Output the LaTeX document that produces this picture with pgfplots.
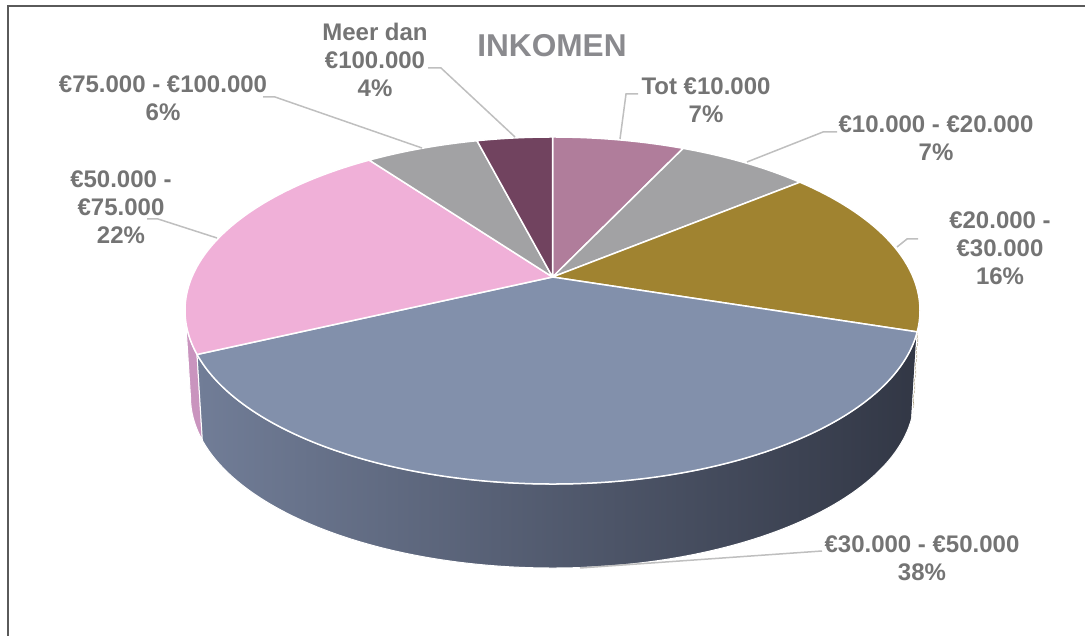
\documentclass[border=0pt]{standalone}
\usepackage{pgfplots}
\pgfplotsset{compat=1.18}
\usepackage{pgfplotstable}
\usepackage{fontspec}
\setmainfont{Liberation Sans}
\definecolor{cA}{HTML}{B07D9B}
\definecolor{cB}{HTML}{A2A2A4}
\definecolor{cC}{HTML}{A08330}
\definecolor{cD}{HTML}{8290AB}
\definecolor{cE}{HTML}{F0B0D8}
\definecolor{cF}{HTML}{A2A2A4}
\definecolor{cG}{HTML}{71435F}
\definecolor{cEs}{HTML}{C994BE}
\definecolor{cCs}{HTML}{6B5720}
\definecolor{sL}{HTML}{717D97}
\definecolor{sR}{HTML}{323745}
\definecolor{labc}{HTML}{747474}
\definecolor{titc}{HTML}{8A8A8E}
\definecolor{leadc}{HTML}{BFBFBF}
\definecolor{framec}{HTML}{5A5A5A}
\tikzset{lab/.style={font=\fontsize{12}{14}\selectfont\bfseries, text=labc, align=center, inner sep=0pt}}

\pgfplotstableread{
label val
Tot10000 7
10000-20000 7
20000-30000 16
30000-50000 38
50000-75000 22
75000-100000 6
meer100000 4
}\pietable

\newcommand\kk{0.8225}
\newcommand\mapang[1]{\pgfmathparse{((#1)<=180)?(90-2*atan(\kk*tan((#1)/2))):(2*atan(\kk*tan((360-(#1))/2))-270)}}
\newcommand\T[1]{\csname tb#1\endcsname}

\newcommand\slice[3]{%
 \edef\ta{\T{#1}}\edef\tz{\T{#2}}%
 \pgfmathsetmacro\xs{552.5+367.5*cos(\ta)}%
 \pgfmathsetmacro\ys{325.5+173.5*sin(\ta)}%
 \edef\tmp{\noexpand\fill[fill=#3,draw=white,line width=0.75pt,line join=round] (axis cs:552.5,\apexY) -- (axis cs:\xs,\ys) arc[start angle=\ta,end angle=\tz,x radius=183.75pt,y radius=86.75pt] -- cycle;}%
 \tmp}

\newcommand\side[3]{%
 \edef\ta{#1}\edef\tz{#2}%
 \pgfmathsetmacro\xs{552.5+367.5*cos(\ta)}%
 \pgfmathsetmacro\ys{325.5+173.5*sin(\ta)}%
 \pgfmathsetmacro\xb{552.5+362*cos(\tz)}%
 \pgfmathsetmacro\yb{239+171*sin(\tz)}%
 \edef\tmp{\noexpand\path[#3,draw=white,line width=0.5pt,line join=round] (axis cs:\xs,\ys) arc[start angle=\ta,end angle=\tz,x radius=183.75pt,y radius=86.75pt] -- (axis cs:\xb,\yb) arc[start angle=\tz,end angle=\ta,x radius=181pt,y radius=85.5pt] -- cycle;}%
 \tmp}

\begin{document}
\begin{tikzpicture}
\pgfmathsetmacro\apexY{325.5+173.5*(1-\kk*\kk)/(1+\kk*\kk)}
\xdef\cum{0}
\mapang{0}\expandafter\xdef\csname tb0\endcsname{\pgfmathresult}
\foreach \i in {0,...,6}{%
  \pgfplotstablegetelem{\i}{val}\of\pietable
  \pgfmathsetmacro\nc{\cum+3.6*\pgfplotsretval}%
  \xdef\cum{\nc}%
  \pgfmathtruncatemacro\j{\i+1}%
  \mapang{\cum}%
  \expandafter\xdef\csname tb\j\endcsname{\pgfmathresult}%
}
\begin{axis}[
  hide axis, x=0.5pt, y=0.5pt,
  xmin=0, xmax=1085, ymin=0, ymax=636,
  clip=false, no markers,
]
% frame (left and top edges)
\addplot[color=framec, line width=1pt] coordinates {(8,0) (8,629.5) (1085,629.5)};
% side walls
\side{-180}{\T{4}}{fill=cEs}
\side{\T{4}}{\T{3}}{left color=sL,right color=sR}
\side{\T{3}}{0}{fill=cCs}
% top faces
\slice{0}{1}{cA}
\slice{1}{2}{cB}
\slice{2}{3}{cC}
\slice{3}{4}{cD}
\slice{4}{5}{cE}
\slice{5}{6}{cF}
\slice{6}{7}{cG}
% leader lines
\addplot[color=leadc, line width=0.75pt] coordinates {(428,568) (441,568) (515,499)};
\addplot[color=leadc, line width=0.75pt] coordinates {(638,542) (626,542) (620,497)};
\addplot[color=leadc, line width=0.75pt] coordinates {(837,504) (823,504) (747,474)};
\addplot[color=leadc, line width=0.75pt] coordinates {(918,397) (907,397) (897,389)};
\addplot[color=leadc, line width=0.75pt] coordinates {(822,85) (580,68)};
\addplot[color=leadc, line width=0.75pt] coordinates {(263,539) (275,539) (422,488)};
\addplot[color=leadc, line width=0.75pt] coordinates {(147,417) (158,417) (217,398)};
% labels
\node[font=\fontsize{15.8}{18}\selectfont\bfseries, text=titc, inner sep=0pt] at (axis cs:552,590) {INKOMEN};
\node[lab] at (axis cs:375,576) {Meer dan\\€100.000\\4\%};
\node[lab] at (axis cs:706,536) {Tot €10.000\\7\%};
\node[lab] at (axis cs:936,498) {€10.000 - €20.000\\7\%};
\node[lab] at (axis cs:1000,388) {€20.000 -\\€30.000\\16\%};
\node[lab] at (axis cs:922,78) {€30.000 - €50.000\\38\%};
\node[lab] at (axis cs:163,537.5) {€75.000 - €100.000\\6\%};
\node[lab] at (axis cs:121,428.5) {€50.000 -\\€75.000\\22\%};
\end{axis}
\pgfresetboundingbox
\path (current axis.south west) rectangle (current axis.north east);
\end{tikzpicture}
\end{document}
